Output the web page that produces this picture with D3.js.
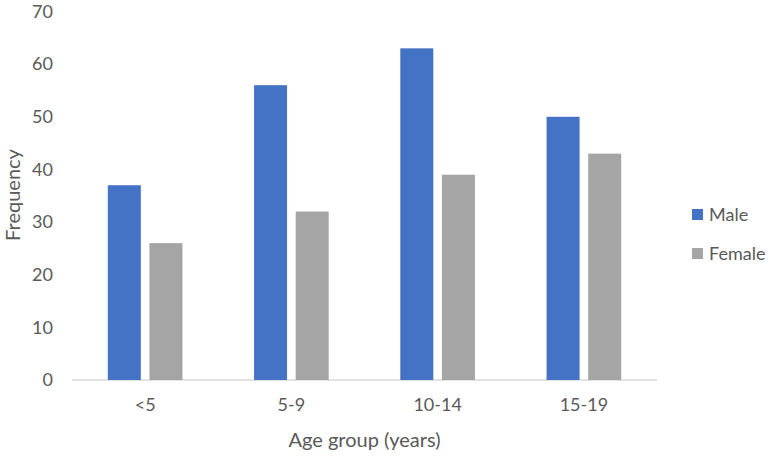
<html>
<head>
<meta charset='utf-8' />
<script src="https://d3js.org/d3.v7.min.js"></script>
<style>
  body { margin: 0; background: #fff; }
  svg text { font-family: Lato, 'Open Sans', sans-serif; fill: #595959; }
  .domain { display: none; }
</style>
</head>
<body>
<svg id='chart' width='774' height='456'></svg>
<script>
// chart data
const ageGroups = ['<5', '5-9', '10-14', '15-19'];
const maleCounts = [37, 56, 63, 50];
const femaleCounts = [26, 32, 39, 43];
const seriesNames = ['Male', 'Female'];
const seriesColors = ['#4472C4', '#A5A5A5'];
const yTicks = [0, 10, 20, 30, 40, 50, 60, 70];

const svg = d3.select('#chart');
const plotLeft = 72, plotRight = 657, plotTop = 11.5, plotBottom = 380;

const x = d3.scaleBand().domain(ageGroups).range([plotLeft, plotRight]);
const inner = d3.scaleBand().domain(seriesNames).range([0, x.bandwidth()])
  .paddingOuter(0.86).paddingInner(0.207);
const y = d3.scaleLinear().domain([0, 70]).range([plotBottom, plotTop]);

const rows = ageGroups.map((g, i) => ({ group: g, values: [maleCounts[i], femaleCounts[i]] }));

// y axis labels
const yAxis = svg.append('g')
  .attr('transform', `translate(${plotLeft - 9},0)`)
  .call(d3.axisLeft(y).tickValues(yTicks).tickSize(0).tickPadding(10));
yAxis.selectAll('text').style('font-size', '18px').attr('fill', '#595959');

// baseline
svg.append('line')
  .attr('x1', plotLeft).attr('x2', plotRight)
  .attr('y1', plotBottom).attr('y2', plotBottom)
  .attr('stroke', '#D9D9D9').attr('stroke-width', 1.3);

// bars
svg.append('g').selectAll('g')
  .data(rows)
  .enter().append('g')
    .attr('transform', d => `translate(${x(d.group)},0)`)
  .selectAll('rect')
  .data(d => d.values.map((v, i) => ({ key: seriesNames[i], value: v, color: seriesColors[i] })))
  .enter().append('rect')
    .attr('x', d => inner(d.key))
    .attr('width', inner.bandwidth())
    .attr('y', d => y(d.value))
    .attr('height', d => plotBottom - y(d.value))
    .style('fill', d => d.color);

// x axis labels
const xAxis = svg.append('g')
  .attr('transform', `translate(0,${plotBottom})`)
  .call(d3.axisBottom(x).tickSize(0).tickPadding(18));
xAxis.selectAll('text').style('font-size', '18px').attr('fill', '#595959');

// axis titles
svg.append('text')
  .attr('x', (plotLeft + plotRight) / 2).attr('y', 447)
  .attr('text-anchor', 'middle')
  .style('font-size', '20px')
  .text('Age group (years)');

svg.append('text')
  .attr('transform', 'translate(20,195) rotate(-90)')
  .attr('text-anchor', 'middle')
  .style('font-size', '20px')
  .text('Frequency');

// legend
const legend = svg.append('g').selectAll('g')
  .data(seriesNames)
  .enter().append('g')
    .attr('transform', (d, i) => `translate(692,${209 + i * 39})`);
legend.append('rect')
  .attr('width', 11).attr('height', 11)
  .style('fill', (d, i) => seriesColors[i]);
legend.append('text')
  .attr('x', 17).attr('y', 11.5)
  .style('font-size', '18px')
  .text(d => d);
</script>
</body>
</html>
